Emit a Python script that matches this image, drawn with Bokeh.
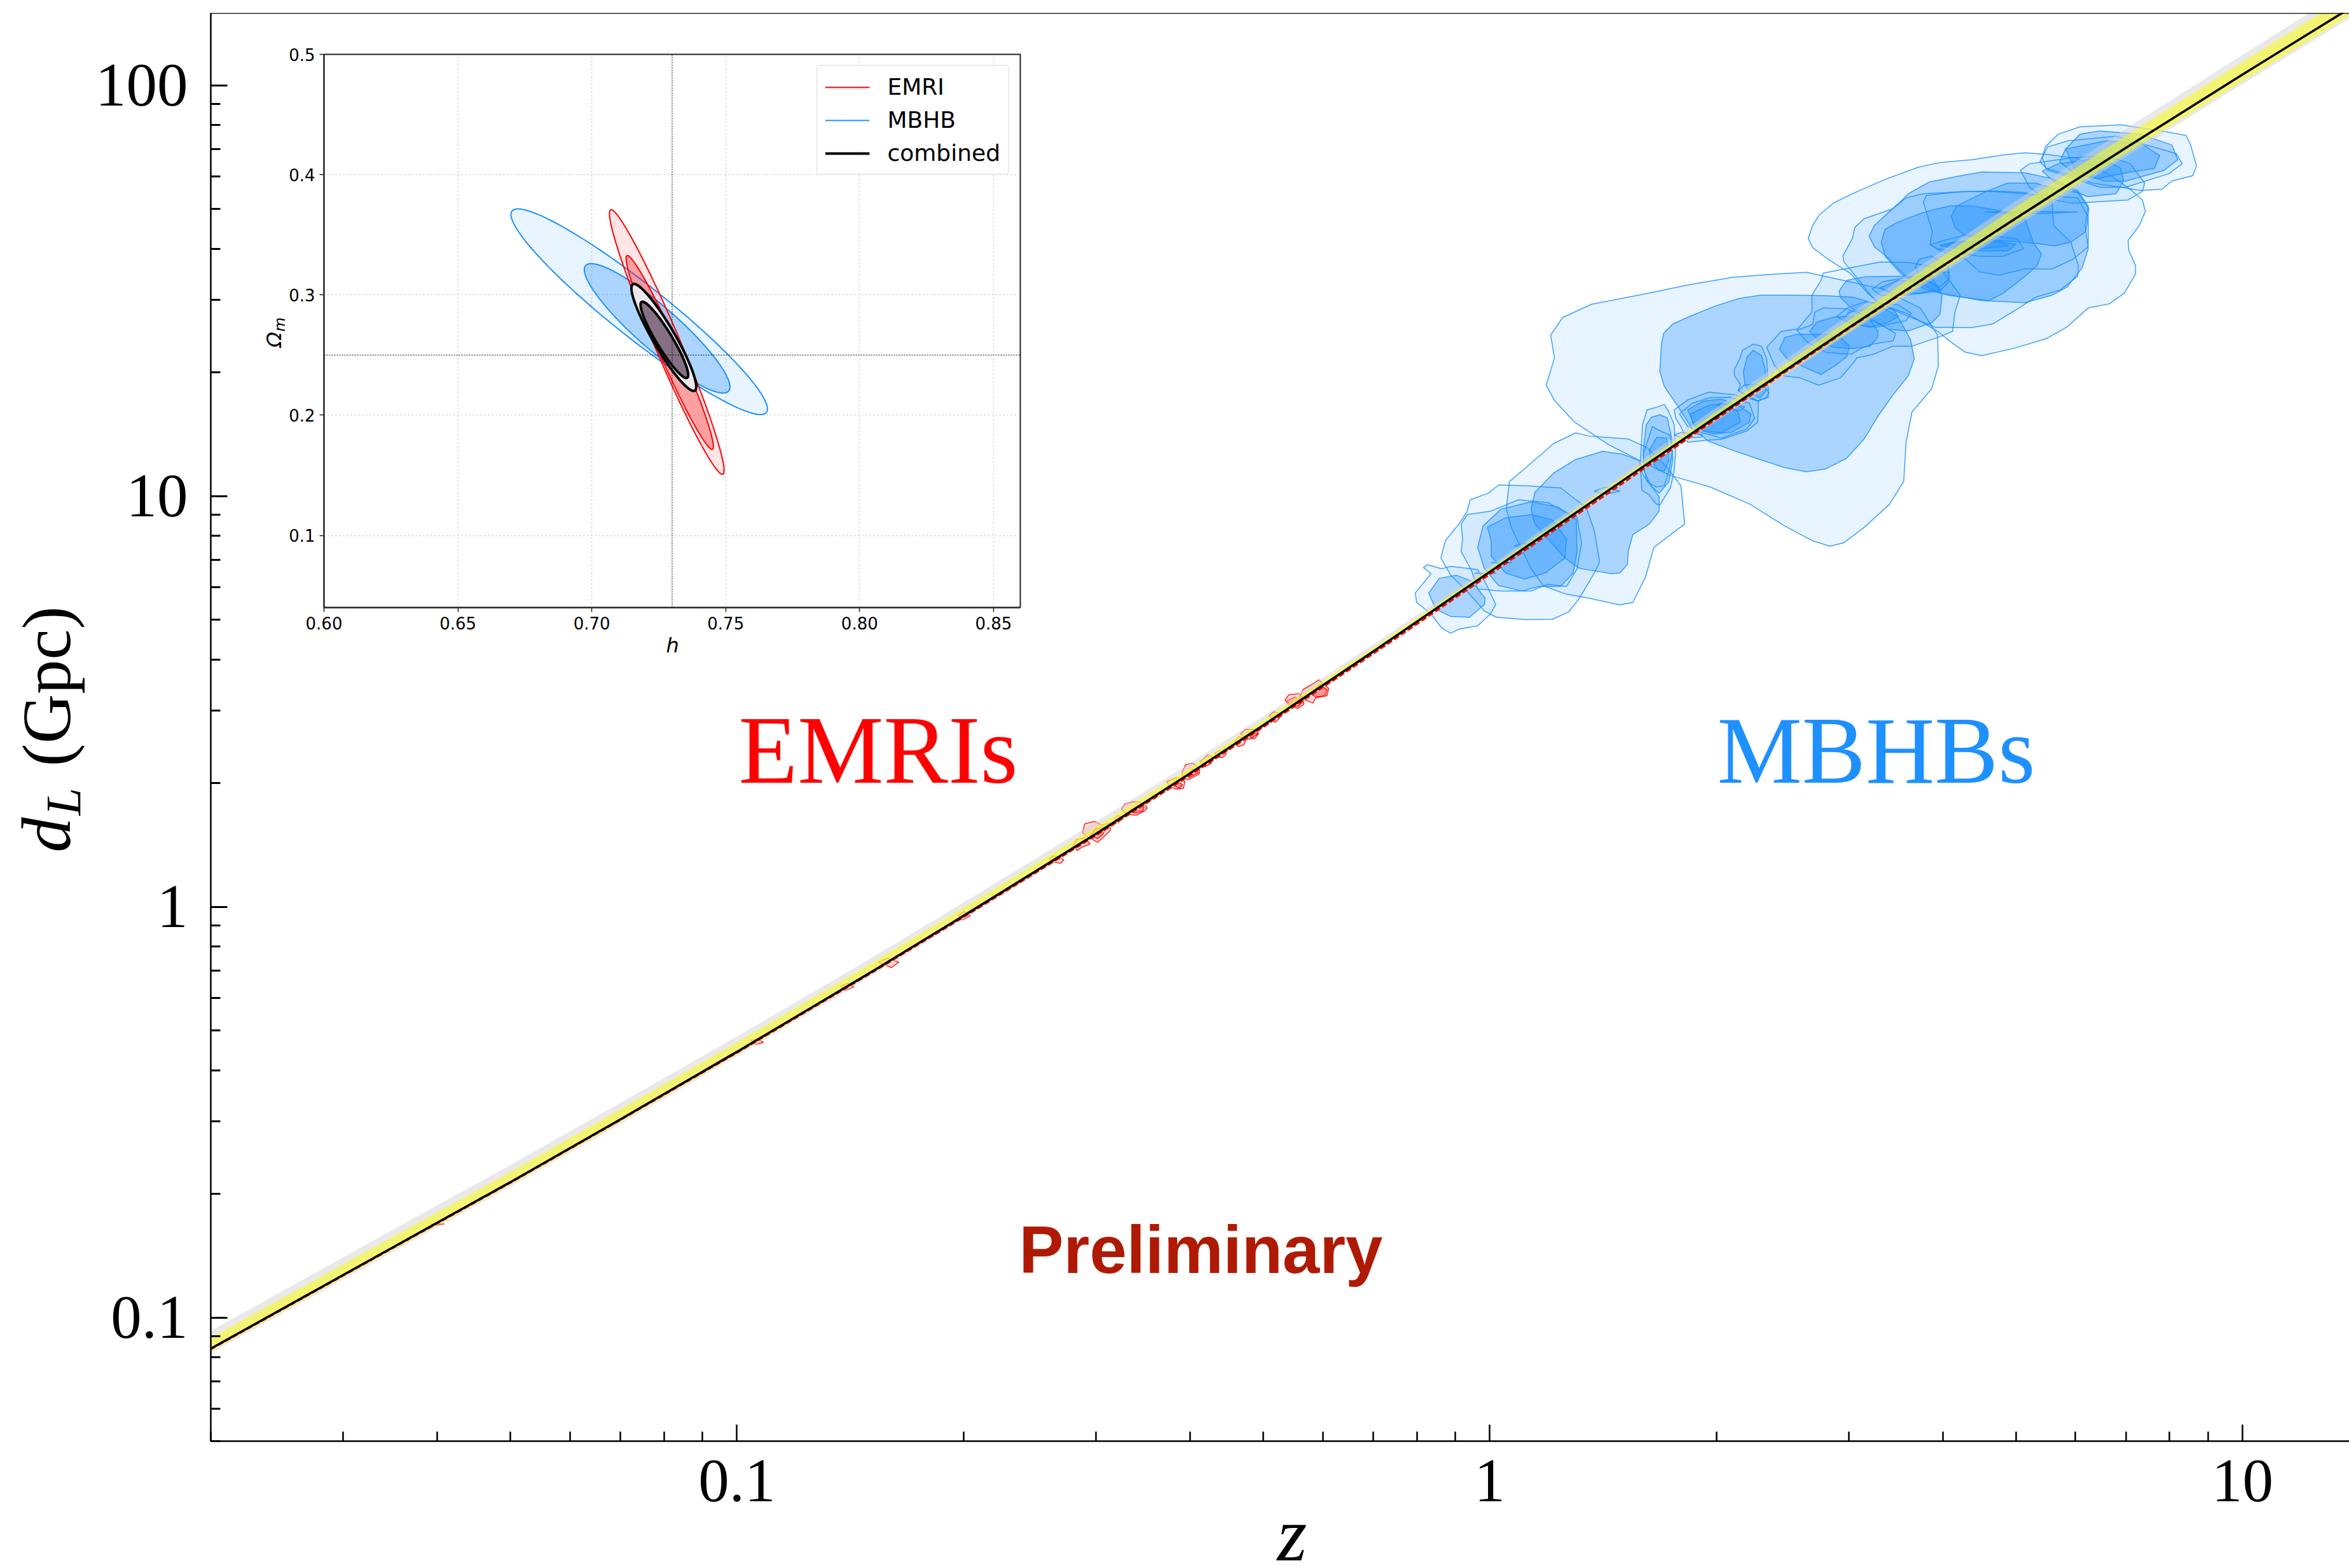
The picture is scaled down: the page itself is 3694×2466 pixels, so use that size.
import numpy as np
from bokeh.plotting import figure
from bokeh.layouts import column
from bokeh.models import FixedTicker, Span, Range1d
from bokeh.core.properties import value
from bokeh.embed import file_html
from bokeh.resources import INLINE

# ---------- main panel: distance-redshift relation ----------
z_curve = [0.02,0.03,0.05,0.07,0.1,0.15,0.2,0.3,0.4,0.5,0.7,1,1.5,2,3,4,5,7,10,14]
dL_curve = [0.084,0.127,0.2136,0.3037,0.4436,0.6896,0.951,1.506,2.114,2.766,4.183,6.537,10.885,15.60,25.70,36.38,47.46,70.44,106.25,155.5]
gray_up_dex = [.0433,.0433,.0418,.0402,.0372,.0341,.0325,.0294,.0248,.0217,.0170,.0139,.0186,.0217,.0310,.0372,.0418,.0464,.0480,.0511]
yellow_up_dex = [.0263,.0263,.0248,.0248,.0232,.0217,.0201,.0170,.0139,.0124,.0093,.0077,.0093,.0124,.0186,.0232,.0279,.0294,.0310,.0325]
yellow_down_dex = [.0062,.0062,.0062,.0062,.0062,.0046,.0046,.0046,.0046,.0046,.0046,.0046,.0062,.0062,.0093,.0108,.0124,.0139,.0155,.0170]
gray_down_dex = [.0108,.0108,.0108,.0108,.0108,.0093,.0093,.0077,.0077,.0077,.0062,.0062,.0077,.0108,.0139,.0170,.0201,.0217,.0232,.0248]
red_down_dex = [.0015,.0015,.0015,.0015,.0023,.0023,.0031,.0039,.0046,.0046,.0054,.0062,.0062,.0054,.0023,.0015,.0008,0,0,0]

# MBHB credible regions: (log10 z, log10 dL / Gpc)
A = [(.081,1.392),(.097,1.435),(.135,1.467),(.203,1.491),(.263,1.514),(.323,1.533),(.384,1.541),(.421,1.545),(.520,1.505),(.572,1.458),(.595,1.392),(.596,1.317),(.587,1.261),(.561,1.205),(.553,1.130),(.550,1.036),(.531,.980),(.497,.923),(.470,.886),(.452,.878),(.429,.891),(.391,.928),(.346,.980),(.293,1.022),(.240,1.050),(.203,1.083),(.158,1.125),(.112,1.181),(.086,1.233),(.075,1.270),(.086,1.336)]
B = [(.228,1.370),(.231,1.396),(.243,1.419),(.269,1.440),(.300,1.463),(.331,1.481),(.359,1.489),(.404,1.489),(.446,1.488),(.483,1.484),(.513,1.468),(.542,1.437),(.559,1.381),(.564,1.334),(.556,1.293),(.536,1.247),(.516,1.195),(.497,1.138),(.474,1.092),(.446,1.066),(.421,1.059),(.392,1.069),(.359,1.089),(.325,1.110),(.291,1.133),(.269,1.164),(.249,1.221),(.232,1.267),(.226,1.303)]
C = [(.423,1.627),(.429,1.659),(.438,1.685),(.457,1.714),(.485,1.739),(.528,1.773),(.570,1.801),(.598,1.812),(.640,1.819),(.683,1.831),(.711,1.836),(.739,1.832),(.781,1.822),(.823,1.783),(.851,1.747),(.867,1.721),(.871,1.693),(.863,1.659),(.848,1.622),(.849,1.598),(.858,1.561),(.858,1.541),(.843,1.494),(.823,1.468),(.795,1.458),(.767,1.412),(.739,1.383),(.697,1.360),(.654,1.342),(.632,1.350),(.612,1.376),(.595,1.401),(.556,1.443),(.519,1.468),(.502,1.494),(.480,1.541),(.449,1.577),(.429,1.605)]
D = [(.469,1.584),(.482,1.628),(.485,1.654),(.497,1.675),(.536,1.700),(.553,1.726),(.575,1.736),(.626,1.741),(.668,1.743),(.711,1.739),(.747,1.716),(.749,1.659),(.772,1.618),(.782,1.561),(.781,1.535),(.758,1.502),(.725,1.484),(.696,1.450),(.668,1.419),(.640,1.410),(.592,1.411),(.550,1.442),(.513,1.473),(.490,1.527),(.471,1.569)]
E = [(.504,1.633),(.511,1.659),(.542,1.711),(.556,1.736),(.584,1.765),(.626,1.780),(.654,1.789),(.711,1.787),(.747,1.773),(.781,1.744),(.795,1.706),(.791,1.659),(.795,1.602),(.787,1.556),(.767,1.509),(.747,1.489),(.711,1.471),(.654,1.476),(.598,1.494),(.553,1.535),(.528,1.582),(.511,1.607)]
G = [(.520,1.618),(.525,1.649),(.542,1.667),(.575,1.690),(.612,1.707),(.643,1.706),(.677,1.695),(.711,1.675),(.722,1.618),(.733,1.589),(.727,1.561),(.711,1.535),(.682,1.494),(.663,1.476),(.609,1.489),(.578,1.504),(.547,1.540),(.526,1.582)]
H = [(.576,1.716),(.580,1.732),(.626,1.741),(.668,1.742),(.725,1.734),(.781,1.726),(.795,1.680),(.795,1.607),(.775,1.577),(.747,1.553),(.711,1.553),(.677,1.538),(.651,1.546),(.632,1.577),(.598,1.597),(.585,1.613),(.588,1.644),(.582,1.680)]
I = [(.613,1.680),(.620,1.706),(.660,1.742),(.688,1.762),(.725,1.762),(.753,1.747),(.781,1.739),(.796,1.700),(.792,1.644),(.772,1.618),(.750,1.609),(.727,1.615),(.699,1.620),(.668,1.623),(.632,1.633),(.618,1.654)]
J = [(.585,1.612),(.604,1.623),(.632,1.636),(.671,1.633),(.701,1.626),(.709,1.602),(.682,1.584),(.649,1.584),(.612,1.597),(.595,1.602)]
K = [(.598,1.610),(.620,1.620),(.668,1.623),(.699,1.613),(.688,1.597),(.654,1.597),(.620,1.602)]
L = [(.604,1.613),(.632,1.620),(.677,1.618),(.689,1.610),(.654,1.602),(.620,1.605)]
M = [(.658,1.692),(.711,1.693),(.781,1.692),(.739,1.688),(.682,1.689)]
P = [(.368,1.362),(.387,1.401),(.409,1.407),(.428,1.448),(.428,1.489),(.440,1.525),(.443,1.543),(.485,1.558),(.519,1.570),(.556,1.569),(.598,1.556),(.625,1.489),(.618,1.448),(.615,1.401),(.598,1.388),(.561,1.365),(.536,1.365),(.508,1.344),(.488,1.337),(.485,1.329),(.466,1.288),(.437,1.270),(.412,1.288),(.390,1.293),(.378,1.319)]
Q = [(.464,1.499),(.474,1.525),(.499,1.534),(.542,1.535),(.587,1.535),(.601,1.489),(.598,1.442),(.587,1.422),(.556,1.402),(.530,1.406),(.508,1.427),(.480,1.458),(.466,1.484)]
R = [(.508,1.504),(.522,1.522),(.564,1.535),(.609,1.546),(.609,1.520),(.598,1.499),(.553,1.489),(.519,1.489)]
S = [(.518,1.507),(.542,1.525),(.587,1.520),(.599,1.504),(.570,1.494),(.536,1.494)]
T = [(.565,1.556),(.570,1.577),(.587,1.584),(.609,1.561),(.611,1.530),(.598,1.509),(.575,1.530)]
U = [(.461,1.437),(.475,1.458),(.499,1.473),(.542,1.466),(.560,1.445),(.553,1.427),(.513,1.411),(.485,1.417),(.471,1.427)]
V = [(.470,1.432),(.477,1.448),(.508,1.458),(.536,1.455),(.543,1.437),(.528,1.422),(.505,1.411),(.477,1.422)]
X = [(.425,1.401),(.435,1.424),(.460,1.437),(.502,1.437),(.516,1.401),(.515,1.386),(.505,1.365),(.482,1.359),(.457,1.362),(.437,1.378)]
Y = [(.385,1.358),(.392,1.386),(.409,1.394),(.449,1.394),(.468,1.383),(.478,1.365),(.474,1.339),(.460,1.319),(.440,1.296),(.418,1.314),(.395,1.334)]
AA = [(.408,1.404),(.429,1.418),(.432,1.448),(.443,1.458),(.474,1.456),(.502,1.437),(.539,1.396),(.536,1.378),(.508,1.370),(.494,1.360),(.480,1.345),(.446,1.350),(.421,1.376)]
BB = [(.325,1.308),(.332,1.334),(.336,1.355),(.350,1.370),(.361,1.365),(.368,1.334),(.370,1.257),(.370,1.241),(.356,1.231),(.345,1.244),(.330,1.257),(.333,1.272),(.325,1.293)]
CC = [(.337,1.303),(.342,1.339),(.350,1.355),(.361,1.342),(.366,1.308),(.367,1.257),(.359,1.239),(.345,1.252),(.339,1.272)]
DD = [(.330,1.257),(.338,1.270),(.353,1.273),(.367,1.262),(.371,1.252),(.367,1.239),(.356,1.232),(.339,1.244)]
EE = [(.245,1.210),(.263,1.234),(.291,1.253),(.325,1.247),(.357,1.231),(.356,1.180),(.342,1.159),(.308,1.138),(.288,1.136),(.263,1.131),(.254,1.169),(.247,1.190)]
FF = [(.252,1.200),(.269,1.226),(.291,1.239),(.319,1.241),(.345,1.226),(.352,1.190),(.342,1.164),(.308,1.141),(.283,1.154),(.263,1.169)]
GG = [(.263,1.210),(.283,1.231),(.308,1.236),(.330,1.221),(.347,1.200),(.345,1.180),(.322,1.156),(.297,1.151),(.274,1.164)]
HH = [(.267,1.200),(.291,1.221),(.311,1.226),(.330,1.205),(.333,1.180),(.308,1.154),(.283,1.159),(.270,1.174)]
II = [(.302,1.221),(.319,1.226),(.339,1.218),(.333,1.208),(.314,1.210)]
KK = [(.245,1.149),(.255,1.155),(.283,1.149),(.280,1.143),(.255,1.141)]
LL = [(.203,1.174),(.209,1.210),(.221,1.216),(.232,1.223),(.238,1.205),(.245,1.174),(.247,1.112),(.245,1.061),(.240,1.020),(.226,.978),(.221,.981),(.211,1.004),(.202,1.014),(.200,1.081)]
MM = [(.208,1.174),(.215,1.192),(.226,1.198),(.236,1.190),(.242,1.138),(.243,1.087),(.238,1.035),(.225,1.007),(.214,1.025),(.205,1.061),(.204,1.112)]
NN = [(.204,1.102),(.216,1.169),(.226,1.159),(.239,1.149),(.243,1.112),(.238,1.061),(.232,1.025),(.221,1.022),(.209,1.035),(.205,1.066)]
OO = [(.212,1.112),(.222,1.143),(.235,1.141),(.238,1.087),(.232,1.061),(.224,1.063),(.214,1.087)]
PP = [(.022,.968),(.026,1.035),(.046,1.066),(.085,1.128),(.114,1.154),(.133,1.146),(.184,1.139),(.209,1.118),(.235,1.071),(.254,1.025),(.259,.932),(.218,.875),(.207,.803),(.190,.741),(.173,.735),(.133,.751),(.100,.762),(.071,.782),(.055,.823),(.029,.922)]
QQ = [(.055,.968),(.060,1.009),(.085,1.056),(.114,1.089),(.150,1.109),(.176,1.102),(.198,1.087),(.204,1.051),(.225,.999),(.225,.963),(.212,.932),(.190,.906),(.184,.865),(.183,.834),(.173,.813),(.162,.811),(.119,.824),(.100,.849),(.077,.896),(.060,.932)]
RR = [(-.030,.963),(-.026,.991),(-.002,1.007),(.012,1.027),(.049,1.025),(.094,1.020),(.111,.996),(.128,.973),(.139,.916),(.146,.839),(.139,.813),(.119,.751),(.105,.718),(.083,.700),(.049,.699),(.009,.705),(-.007,.720),(-.027,.762),(-.052,.808),(-.065,.849),(-.059,.891),(-.041,.932)]
SS = [(-.038,.932),(-.030,.955),(.001,.963),(.038,.991),(.077,.984),(.116,.947),(.122,.885),(.116,.823),(.102,.780),(.077,.785),(.055,.769),(.015,.769),(-.016,.774),(-.024,.818),(-.038,.865),(-.036,.896)]
TT = [(-.016,.875),(-.009,.927),(.015,.968),(.055,.986),(.091,.973),(.115,.942),(.116,.865),(.111,.813),(.094,.780),(.066,.780),(.043,.769),(.012,.782),(-.007,.823)]
UU = [(-.003,.924),(.021,.947),(.055,.955),(.083,.942),(.102,.896),(.100,.849),(.074,.813),(.046,.798),(.021,.813),(.002,.854),(.002,.891)]
VV = [(-.099,.764),(-.078,.811),(-.088,.826),(-.083,.833),(-.064,.823),(-.052,.829),(-.016,.821),(-.005,.787),(.008,.736),(.001,.713),(-.016,.684),(-.041,.676),(-.052,.666),(-.064,.679),(-.078,.713),(-.097,.741)]
WW = [(-.081,.764),(-.067,.800),(-.044,.807),(-.024,.793),(-.006,.751),(-.007,.736),(-.027,.705),(-.052,.707),(-.072,.725)]
SM1 = [(.033,.879),(.046,.885),(.060,.883),(.049,.872)]
SM2 = [(.139,1.012),(.153,1.022),(.173,1.012),(.153,1.004)]
SM3 = [(.002,.838),(.029,.838),(.015,.835)]
SM4 = [(-.020,.812),(.008,.812),(-.007,.811)]
XX = [(.738,1.850),(.755,1.881),(.784,1.899),(.838,1.904),(.893,1.889),(.925,1.878),(.931,1.855),(.939,1.804),(.934,1.780),(.906,1.767),(.893,1.747),(.864,1.744),(.838,1.752),(.800,1.762),(.778,1.778),(.739,1.798),(.734,1.824)]
YY = [(.765,1.845),(.784,1.881),(.810,1.889),(.864,1.881),(.906,1.855),(.914,1.819),(.896,1.793),(.845,1.767),(.816,1.767),(.778,1.793)]
ZZ = [(.757,1.814),(.765,1.845),(.819,1.865),(.864,1.860),(.890,1.829),(.883,1.798),(.848,1.788),(.806,1.773),(.778,1.783)]
AB = [(.705,1.793),(.717,1.809),(.774,1.824),(.819,1.829),(.851,1.809),(.870,1.762),(.867,1.742),(.848,1.721),(.774,1.713),(.736,1.726),(.717,1.752)]
AC = [(.734,1.791),(.755,1.809),(.813,1.824),(.838,1.798),(.842,1.767),(.832,1.736),(.794,1.729),(.752,1.762)]
AD = [(.731,1.814),(.741,1.850),(.768,1.865),(.832,1.876),(.912,1.834),(.920,1.809),(.902,1.785),(.845,1.752),(.810,1.752),(.768,1.778),(.742,1.793)]
mbhb_wide = [A,C,D,H,J,P,R,T,U,AA,BB,DD,EE,FF,II,KK,LL,NN,PP,RR,SS,VV,SM1,SM2,SM3,SM4,XX,AD,AB]
mbhb_narrow = [B,E,G,I,K,L,M,Q,S,V,X,Y,CC,GG,HH,MM,OO,QQ,TT,UU,WW,YY,ZZ,AC]

# EMRI credible regions
E1 = [(-.585,.117),(-.580,.124),(-.572,.122),(-.566,.114),(-.570,.106),(-.580,.109)]
E2 = [(-.553,.150),(-.549,.164),(-.538,.168),(-.531,.153),(-.542,.145),(-.548,.137)]
E3 = [(-.541,.181),(-.538,.202),(-.525,.208),(-.515,.199),(-.504,.204),(-.504,.186),(-.514,.168),(-.521,.157),(-.529,.166),(-.536,.171)]
E3b = [(-.531,.173),(-.523,.191),(-.510,.194),(-.514,.176),(-.521,.166)]
E4 = [(-.499,.215),(-.494,.222),(-.488,.217),(-.493,.205)]
E5 = [(-.489,.238),(-.485,.250),(-.474,.256),(-.459,.253),(-.455,.240),(-.459,.233),(-.470,.223),(-.482,.225)]
E5b = [(-.478,.235),(-.468,.246),(-.459,.243),(-.461,.233),(-.472,.228)]
E6 = [(-.429,.305),(-.416,.315),(-.405,.305),(-.407,.288),(-.417,.287),(-.425,.292)]
E6b = [(-.423,.297),(-.414,.305),(-.408,.297),(-.412,.289)]
E7 = [(-.409,.326),(-.404,.346),(-.395,.350),(-.385,.336),(-.386,.323),(-.400,.310),(-.406,.313)]
E7b = [(-.404,.320),(-.393,.336),(-.387,.326),(-.399,.315)]
E8 = [(-.385,.354),(-.380,.360),(-.375,.370),(-.368,.364),(-.370,.349),(-.378,.341)]
E9 = [(-.365,.375),(-.357,.381),(-.350,.372),(-.355,.363),(-.362,.365)]
E10 = [(-.339,.401),(-.333,.415),(-.324,.406),(-.327,.394),(-.334,.390)]
E11 = [(-.331,.421),(-.325,.432),(-.314,.432),(-.307,.422),(-.312,.410),(-.323,.408)]
E11b = [(-.323,.418),(-.316,.427),(-.308,.421),(-.316,.411)]
E12 = [(-.293,.465),(-.287,.475),(-.282,.473),(-.278,.462),(-.285,.449)]
E13 = [(-.272,.504),(-.267,.516),(-.253,.519),(-.248,.509),(-.247,.493),(-.255,.483),(-.267,.491)]
E13b = [(-.270,.501),(-.259,.511),(-.249,.498),(-.255,.488),(-.265,.493)]
E14 = [(-.253,.509),(-.248,.529),(-.233,.545),(-.227,.553),(-.221,.542),(-.214,.532),(-.216,.514),(-.231,.509),(-.235,.496),(-.242,.501)]
E14b = [(-.238,.519),(-.227,.540),(-.216,.529),(-.219,.514),(-.231,.511)]
E15 = [(-.812,-.135),(-.800,-.125),(-.785,-.135),(-.795,-.148)]
E16 = [(-.706,-.020),(-.698,-.012),(-.690,-.022),(-.700,-.032)]
E17 = [(-.862,-.193),(-.852,-.186),(-.845,-.195),(-.856,-.204)]
E18 = [(-.982,-.325),(-.972,-.322),(-.965,-.330),(-.975,-.335)]
E19 = [(-1.406,-.772),(-1.389,-.772),(-1.398,-.775)]
emri_wide = [E1,E2,E3,E4,E5,E6,E7,E8,E9,E10,E11,E12,E13,E14,E15,E16,E17,E18,E19]
emri_narrow = [E3b,E5b,E6b,E7b,E11b,E13b,E14b]

x_major = [0.1, 1, 10]
x_major_labels = ["0.1", "1", "10"]
x_minor = [.02,.03,.04,.05,.06,.07,.08,.09,.2,.3,.4,.5,.6,.7,.8,.9,2,3,4,5,6,7,8,9]
y_major = [0.1, 1, 10, 100]
y_major_labels = ["0.1", "1", "10", "100"]
y_minor = [.05,.06,.07,.08,.09,.2,.3,.4,.5,.6,.7,.8,.9,2,3,4,5,6,7,8,9,20,30,40,50,60,70,80,90]

# ---------- inset: (h, Omega_m) ellipses: centre h, half-extent h, centre Om, half-extent Om, correlation ----------
emri_outer = (.7280, .0214, .2608, .1100, -.97)
emri_inner = (.7291, .0163, .2521, .0806, -.97)
mbhb_outer = (.7177, .0479, .2860, .0855, -.945)
mbhb_inner = (.7244, .0272, .2722, .0538, -.905)
comb_outer = (.7269, .0121, .2646, .0445, -.92)
comb_inner = (.7271, .0089, .2626, .0317, -.92)
h_ticks = [.60,.65,.70,.75,.80,.85]
h_labels = ["0.60","0.65","0.70","0.75","0.80","0.85"]
om_ticks = [.1,.2,.3,.4,.5]
om_labels = ["0.1","0.2","0.3","0.4","0.5"]

BLUE = "#1E90FF"
SERIF = "Liberation Serif"

def to_xy(groups):
    return ([[10**a for a, _ in c] for c in groups], [[10**b for _, b in c] for c in groups])

PAGE_W, PAGE_H = 3694, 2466
p = figure(width=PAGE_W, height=PAGE_H, x_axis_type="log", y_axis_type="log",
           x_range=Range1d(0.02, 10**1.1419), y_range=Range1d(0.05, 150),
           output_backend="svg", toolbar_location=None, frame_align=False,
           min_border_left=331, min_border_right=0, min_border_top=20, min_border_bottom=200)
p.grid.visible = False
p.outline_line_color = None
p.background_fill_color = "white"
p.border_fill_color = "white"

for ax, maj, lab_, mino, tw, so in ((p.xaxis[0], x_major, x_major_labels, x_minor, 2.5, 30),
                                    (p.yaxis[0], y_major, y_major_labels, y_minor, 3, 36)):
    ax.ticker = FixedTicker(ticks=maj, minor_ticks=mino)
    ax.major_label_overrides = dict(zip(maj, lab_))
    ax.major_tick_in = 26; ax.major_tick_out = 0
    ax.minor_tick_in = 15; ax.minor_tick_out = 0
    ax.major_tick_line_width = tw; ax.minor_tick_line_width = tw
    ax.major_tick_line_color = "black"; ax.minor_tick_line_color = "black"
    ax.axis_line_width = 2.5; ax.axis_line_color = "black"
    ax.major_label_text_font = SERIF
    ax.major_label_text_font_size = "97px"
    ax.major_label_text_color = "black"
    ax.major_label_standoff = so
p.yaxis[0].major_label_orientation = "horizontal"
p.add_layout(Span(location=150, dimension="width", line_color="black", line_width=2.5))

# credible regions
xs, ys = to_xy(mbhb_wide)
p.patches(xs, ys, fill_color=BLUE, fill_alpha=.1, line_color=BLUE, line_width=1.5, line_alpha=.85, line_join="round")
xs, ys = to_xy(mbhb_narrow)
p.patches(xs, ys, fill_color=BLUE, fill_alpha=.3, line_color=BLUE, line_width=1.5, line_alpha=.85, line_join="round")
xs, ys = to_xy(emri_wide)
p.patches(xs, ys, fill_color="red", fill_alpha=.15, line_color="red", line_width=1.3, line_join="round")
xs, ys = to_xy(emri_narrow)
p.patches(xs, ys, fill_color="red", fill_alpha=.3, line_color="red", line_width=1.3, line_join="round")

# bands and curves
z = np.array(z_curve); d = np.array(dL_curve)
p.varea(x=z, y1=d*10**(-np.array(gray_down_dex)), y2=d*10**np.array(gray_up_dex), fill_color="lightgray", fill_alpha=.5)
p.varea(x=z, y1=d*10**(-np.array(yellow_down_dex)), y2=d*10**np.array(yellow_up_dex), fill_color="yellow", fill_alpha=.5)
p.line(z, d*10**(-np.array(red_down_dex)), line_color="red", line_width=3, line_dash="9 4")
p.line(z, d, line_color="black", line_width=3.5)

# ---------- inset ----------
IL, IT, IR, IB = 509, 85, 1604, 955           # frame edges on the page
FL, FT, FR, FB = 400, 60, 1616, 1045          # canvas edges on the page
ins = figure(width=FR-FL, height=FB-FT, x_range=Range1d(.60, .86), y_range=Range1d(.04, .50),
             output_backend="svg", toolbar_location=None, frame_align=False,
             min_border_left=IL-FL, min_border_right=FR-IR, min_border_top=IT-FT, min_border_bottom=FB-IB,
             styles={"position": "absolute", "left": f"{FL}px", "top": f"{FT}px", "z-index": "10"})
ins.outline_line_color = "#222222"; ins.outline_line_width = 2
ins.background_fill_color = "white"; ins.border_fill_color = "white"
ins.xaxis[0].ticker = FixedTicker(ticks=h_ticks, minor_ticks=[])
ins.xaxis[0].major_label_overrides = dict(zip(h_ticks, h_labels))
ins.yaxis[0].ticker = FixedTicker(ticks=om_ticks, minor_ticks=[])
ins.yaxis[0].major_label_overrides = dict(zip(om_ticks, om_labels))
for ax in (ins.xaxis[0], ins.yaxis[0]):
    ax.major_tick_in = 0; ax.major_tick_out = 7
    ax.major_tick_line_width = 1.5; ax.major_tick_line_color = "#222222"
    ax.axis_line_width = 2; ax.axis_line_color = "#222222"
    ax.major_label_text_font = "DejaVu Sans"
    ax.major_label_text_font_size = "26px"
    ax.major_label_text_color = "black"
    ax.major_label_standoff = 7
ins.yaxis[0].major_label_orientation = "horizontal"
for g in (ins.xgrid[0], ins.ygrid[0]):
    g.grid_line_color = "#c8c8c8"; g.grid_line_dash = "2 4"; g.grid_line_width = 1.5
ins.xgrid[0].ticker = FixedTicker(ticks=h_ticks)
ins.ygrid[0].ticker = FixedTicker(ticks=om_ticks)

t = np.linspace(0, 2*np.pi, 145)
def ell(par):
    h0, a, o0, b, rho = par
    return h0 + a*np.cos(t), o0 + b*(rho*np.cos(t) + np.sqrt(1-rho**2)*np.sin(t))

for par, alpha in ((mbhb_outer, .1), (mbhb_inner, .3)):
    hx, oy = ell(par)
    ins.patch(hx, oy, fill_color=BLUE, fill_alpha=alpha, line_color=None)
    ins.line(hx, oy, line_color=BLUE, line_width=2, **({"legend_label": "MBHB"} if alpha == .1 else {}))
for par, alpha in ((emri_outer, .1), (emri_inner, .3)):
    hx, oy = ell(par)
    ins.patch(hx, oy, fill_color="red", fill_alpha=alpha, line_color=None)
    ins.line(hx, oy, line_color="red", line_width=2, **({"legend_label": "EMRI"} if alpha == .1 else {}))
for par, colr in ((comb_outer, "#ECE9ED"), (comb_inner, "#857084")):
    hx, oy = ell(par)
    ins.patch(hx, oy, fill_color=colr, line_color=None)
    ins.line(hx, oy, line_color="black", line_width=4, **({"legend_label": "combined"} if colr == "#ECE9ED" else {}))

ins.add_layout(Span(location=.73, dimension="height", line_color="black", line_width=1, line_dash="2 2"))
ins.add_layout(Span(location=.25, dimension="width", line_color="black", line_width=1, line_dash="2 2"))

leg = ins.legend[0]
by = {it.label.value: it for it in leg.items}
leg.items = [by["EMRI"], by["MBHB"], by["combined"]]
leg.location = "top_right"
leg.margin = 17; leg.padding = 12; leg.spacing = 11
leg.label_text_font = "DejaVu Sans"; leg.label_text_font_size = "36px"; leg.label_text_color = "black"
leg.glyph_width = 70; leg.glyph_height = 40; leg.label_height = 40; leg.label_standoff = 28
leg.border_line_color = "#d5d5d5"; leg.border_line_width = 2; leg.background_fill_alpha = .85
if "border_radius" in leg.properties():
    leg.border_radius = 6

# ---------- texts, on a transparent sheet whose ranges are the page's own pixels ----------
ov = figure(width=PAGE_W, height=PAGE_H, x_range=Range1d(0, PAGE_W), y_range=Range1d(PAGE_H, 0),
            output_backend="svg", toolbar_location=None, frame_align=False,
            x_axis_location=None, y_axis_location=None,
            min_border_left=0, min_border_right=0, min_border_top=0, min_border_bottom=0,
            styles={"position": "absolute", "left": "0px", "top": "0px", "z-index": "20"})
ov.grid.visible = False
ov.outline_line_color = None
ov.background_fill_color = None
ov.border_fill_color = None

def put(text, px, py, font, size, color="black", style="normal", angle=0.0):
    ov.text(x=[px], y=[py], text=[text], angle=angle, text_font=value(font), text_font_size=value(size),
            text_font_style=style, text_color=color, text_align="left", text_baseline="alphabetic")

rot = np.pi/2
put("EMRIs", 1161, 1179, SERIF, "152px", "red")
put("MBHBs", 2700, 1179, SERIF, "150px", BLUE)
put("Preliminary", 1602, 1965, "Liberation Sans", "105px", "#AF1A05", "bold")
put("z", 2008, 2413, SERIF, "120px", "black", "italic")
put("d", 72, 1340, SERIF, "110px", "black", "italic", rot)
put("L", 99, 1282, SERIF, "78px", "black", "italic", rot)
put("(Gpc)", 73, 1205, SERIF, "108px", "black", "normal", rot)
put("h", 1047, 1014, "DejaVu Sans", "32px", "black", "italic")
put("Ω", 430, 546, "DejaVu Sans", "32px", "black", "italic", rot)
put("m", 439, 521, "DejaVu Sans", "23px", "black", "italic", rot)

page = column(p, ins, ov)
open("out.html", "w").write(file_html(page, INLINE))
